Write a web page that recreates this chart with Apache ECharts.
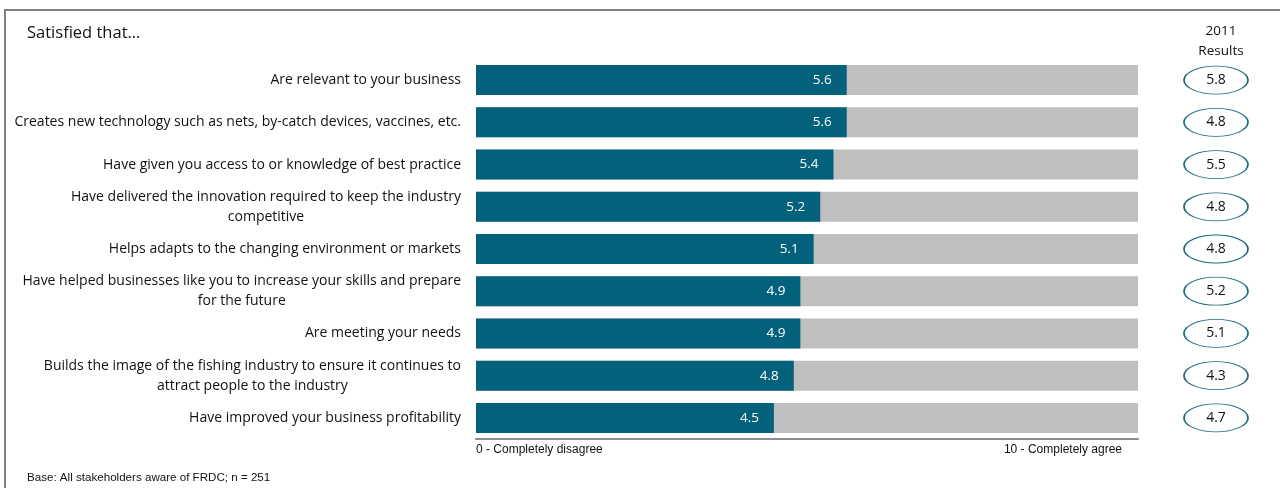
<!DOCTYPE html>
<html>
<head>
<meta charset="utf-8">
<style>
  html, body { margin: 0; padding: 0; background: #ffffff; }
  #chart { width: 1280px; height: 488px; }
</style>
<script src="https://cdn.jsdelivr.net/npm/echarts@6/dist/echarts.min.js"></script>
</head>
<body>
<div id="chart"></div>
<script>
// Statements rated on a 0–10 agreement scale
const categories = [
  'Are relevant to your business',
  'Creates new technology such as nets, by-catch devices, vaccines, etc.',
  'Have given you access to or knowledge of best practice',
  'Have delivered the innovation required to keep the industry\ncompetitive',
  'Helps adapts to the changing environment or markets',
  'Have helped businesses like you to increase your skills and prepare\nfor the future',
  'Are meeting your needs',
  'Builds the image of the fishing industry to ensure it continues to\nattract people to the industry',
  'Have improved your business profitability'
];
// Current mean scores
const scores = [5.6, 5.6, 5.4, 5.2, 5.1, 4.9, 4.9, 4.8, 4.5];
// Mean scores from the 2011 survey
const results2011 = [5.8, 4.8, 5.5, 4.8, 4.8, 5.2, 5.1, 4.3, 4.7];
// Scale end labels
const scaleLabels = { 0: '0 - Completely disagree', 10: '10 - Completely agree' };

const FONT = '"Open Sans", "Noto Sans", sans-serif';
const FONT_SMALL = '"Liberation Sans", Arial, sans-serif';
const TEAL = '#04617b';
const INK = '#111111';

const chart = echarts.init(document.getElementById('chart'), null, { renderer: 'canvas' });

chart.setOption({
  backgroundColor: '#ffffff',
  animation: false,
  textStyle: { fontFamily: FONT },
  grid: [
    { left: 476, right: 142, top: 59, bottom: 49, containLabel: false },
    { left: 1180, width: 72, top: 59, bottom: 49, containLabel: false }
  ],
  xAxis: [
    {
      gridIndex: 0, type: 'value', min: 0, max: 10, interval: 10,
      splitLine: { show: false },
      axisTick: { show: false },
      axisLine: { show: true, onZero: false, lineStyle: { color: '#8c8c8c', width: 2 } },
      axisLabel: {
        show: true, fontSize: 12, color: INK, fontFamily: FONT_SMALL, margin: 5,
        alignMinLabel: 'left', alignMaxLabel: 'right',
        padding: [0, 16, 0, 0],
        formatter: v => scaleLabels[v] || ''
      }
    },
    { gridIndex: 1, type: 'value', min: 0, max: 1, show: false }
  ],
  yAxis: [
    {
      gridIndex: 0, type: 'category', data: categories, inverse: true,
      axisLine: { show: false }, axisTick: { show: false },
      axisLabel: {
        color: INK, fontSize: 14, fontFamily: FONT, margin: 15, lineHeight: 20,
        formatter: v => v.indexOf('\n') >= 0 ? '{c|' + v.split('\n').join('}\n{c|') + '}' : v,
        rich: { c: { align: 'center', fontSize: 14, lineHeight: 20, color: INK, fontFamily: FONT } }
      }
    },
    { gridIndex: 1, type: 'category', data: categories, inverse: true, show: false }
  ],
  title: [
    { text: 'Satisfied that…', left: 22, top: 20,
      textStyle: { fontSize: 16.5, fontWeight: 'normal', color: INK, fontFamily: FONT } },
    { text: '2011\nResults', left: 1216, top: 16, textAlign: 'center',
      textStyle: { fontSize: 13.5, fontWeight: 'normal', color: INK, lineHeight: 20, fontFamily: FONT } },
    { text: 'Base: All stakeholders aware of FRDC; n = 251', left: 22, top: 467,
      textStyle: { fontSize: 11.6, fontWeight: 'normal', color: INK, fontFamily: FONT_SMALL } }
  ],
  graphic: [
    { type: 'polyline', silent: true,
      shape: { points: [[1280, 10], [5, 10], [5, 488]] },
      style: { stroke: '#7f7f7f', lineWidth: 2, fill: null } }
  ],
  series: [
    {
      type: 'bar', xAxisIndex: 0, yAxisIndex: 0,
      data: scores, barCategoryGap: '29%',
      itemStyle: { color: TEAL },
      showBackground: true,
      backgroundStyle: { color: '#bfbfbf' },
      label: {
        show: true, position: 'insideRight', distance: 15,
        color: '#ffffff', fontSize: 13.5, fontFamily: FONT,
        formatter: p => p.value.toFixed(1)
      }
    },
    {
      type: 'scatter', xAxisIndex: 1, yAxisIndex: 1,
      data: results2011.map((v, i) => [0.5, i, v]),
      symbol: 'circle', symbolSize: [64, 28],
      itemStyle: { color: '#ffffff', borderColor: '#1d6d80', borderWidth: 1.2, opacity: 1 },
      label: {
        show: true, position: 'inside', color: INK, fontSize: 14, fontFamily: FONT,
        formatter: p => p.data[2].toFixed(1)
      }
    }
  ]
});
</script>
</body>
</html>
